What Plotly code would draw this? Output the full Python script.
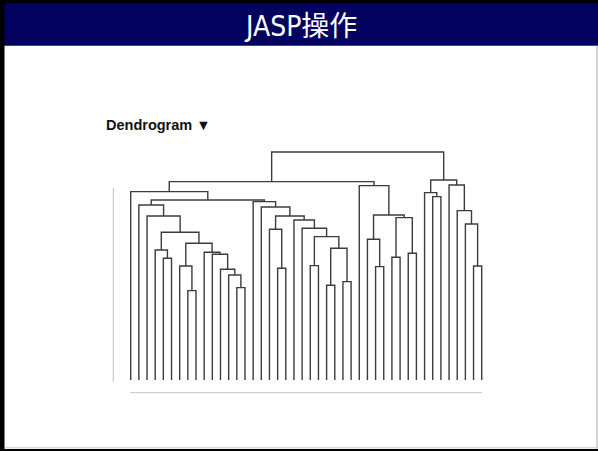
import plotly.graph_objects as go

# ---- data: hierarchical clustering (44 leaves), scipy-like merges ----
n_leaves = 44
merge_a = [13, 12, 11, 10, 9, 7, 6, 50, 4, 3, 53, 2, 1,
           18, 17, 22, 24, 26, 60, 59, 21, 20, 58, 16, 15, 56, 0,
           30, 29, 32, 34, 73, 72, 28, 70,
           37, 36, 42, 41, 40, 39, 80, 78]
merge_b = [14, 44, 45, 46, 47, 8, 49, 48, 5, 52, 51, 54, 55,
           19, 57, 23, 25, 27, 61, 62, 63, 64, 65, 66, 67, 68, 69,
           31, 71, 33, 35, 74, 75, 76, 77,
           38, 79, 43, 81, 82, 83, 84, 85]
merge_height = [4.62, 5.25, 5.54, 6.29, 6.39, 4.47, 5.70, 6.84, 6.09, 6.50, 7.39, 8.20, 8.75,
                5.59, 7.54, 5.72, 4.74, 4.92, 6.59, 7.17, 7.59, 8.00, 8.20, 8.65, 8.92, 9.00, 9.42,
                5.67, 7.04, 6.14, 6.34, 8.12, 8.25, 9.72, 9.92,
                9.17, 9.37, 5.70, 7.80, 8.47, 9.75, 10.00, 11.40]

title_text = "JASP操作"
panel_label = "Dendrogram ▼"

# ---- build dendrogram line path ----
pos = {i: float(i) for i in range(n_leaves)}
hgt = {i: 0.0 for i in range(n_leaves)}
xs, ys = [], []
for k, (a, b, h) in enumerate(zip(merge_a, merge_b, merge_height)):
    node = n_leaves + k
    xs += [pos[a], pos[a], pos[b], pos[b], None]
    ys += [hgt[a], h, h, hgt[b], None]
    pos[node] = (pos[a] + pos[b]) / 2
    hgt[node] = h

W, H = 598, 451
L, R, T, B = 106, 108, 130, 61
PW, PH = W - L - R, H - T - B
x_range = [-3.026, -3.026 + PW / 8.163]
y_range = [-0.5, -0.5 + PH / 20.0]


def px(x):
    return (x - L) / PW


def py(y):
    return (H - B - y) / PH


fig = go.Figure()
fig.add_trace(go.Scatter(x=xs, y=ys, mode="lines",
                         line=dict(color="#3c3c3c", width=1.4),
                         hoverinfo="skip", showlegend=False))

shapes = [
    # title bar
    dict(type="rect", xref="paper", yref="paper", x0=px(0), x1=px(W), y0=py(45.7), y1=py(3),
         fillcolor="#03035f", line=dict(width=0), layer="below"),
    # borders
    dict(type="rect", xref="paper", yref="paper", x0=px(0), x1=px(W), y0=py(3.3), y1=py(0),
         fillcolor="#000000", line=dict(width=0)),
    dict(type="rect", xref="paper", yref="paper", x0=px(0), x1=px(4.5), y0=py(H), y1=py(0),
         fillcolor="#000000", line=dict(width=0)),
    dict(type="rect", xref="paper", yref="paper", x0=px(0), x1=px(W), y0=py(H), y1=py(449),
         fillcolor="#000000", line=dict(width=0)),
    dict(type="line", xref="paper", yref="paper", x0=px(597), x1=px(597), y0=py(449), y1=py(45.7),
         line=dict(color="#c8c8c8", width=1.5)),
    dict(type="line", xref="paper", yref="paper", x0=px(5), x1=px(597), y0=py(447.8), y1=py(447.8),
         line=dict(color="#c8c8c8", width=1)),
    # frame lines of the dendrogram panel
    dict(type="line", xref="paper", yref="paper", x0=px(113.3), x1=px(113.3), y0=py(382), y1=py(187.7),
         line=dict(color="#cfcfcf", width=1.3)),
    dict(type="line", xref="paper", yref="paper", x0=px(130), x1=px(482), y0=py(392.7), y1=py(392.7),
         line=dict(color="#cfcfcf", width=1.3)),
]

annotations = [
    dict(text=title_text, xref="paper", yref="paper", x=px(300), y=py(26.5),
         xanchor="center", yanchor="middle", showarrow=False,
         font=dict(family="Liberation Sans Narrow, DejaVu Sans Condensed, Noto Sans CJK JP",
                   size=28, color="#ffffff")),
    dict(text="<b>" + panel_label + "</b>", xref="paper", yref="paper", x=px(104), y=py(125),
         xanchor="left", yanchor="middle", showarrow=False,
         font=dict(family="Liberation Sans, Arial, sans-serif", size=14.5, color="#111111")),
]

fig.update_layout(
    width=W, height=H,
    margin=dict(l=L, r=R, t=T, b=B, pad=0),
    paper_bgcolor="#ffffff", plot_bgcolor="#ffffff",
    xaxis=dict(range=x_range, visible=False, fixedrange=True),
    yaxis=dict(range=y_range, visible=False, fixedrange=True),
    shapes=shapes, annotations=annotations,
)

fig.write_html("out.html", config={"displayModeBar": False},
               post_script="document.body.style.margin='0';document.body.style.overflow='hidden';")
